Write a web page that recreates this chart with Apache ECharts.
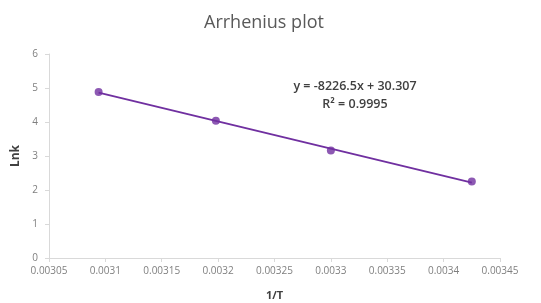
<!DOCTYPE html>
<html>
<head>
<meta charset="utf-8">
<script src="https://cdn.jsdelivr.net/npm/echarts@6/dist/echarts.min.js"></script>
<style>
  html, body { margin: 0; padding: 0; background: #fff; }
  #chart { width: 541px; height: 303px; }
</style>
</head>
<body>
<div id="chart"></div>
<script>
// 1/T values and ln k
const invT = [0.003094, 0.003198, 0.0033, 0.003425];
const lnK = [4.88, 4.04, 3.16, 2.25];

// equation text as printed on the chart
const eqSlope = -8226.5;
const eqIntercept = 30.307;
const rSquared = 0.9995;

const xTicks = { min: 0.00305, max: 0.00345, step: 0.00005 };
const yTicks = { min: 0, max: 6, step: 1 };

// least-squares line through the plotted points
const mx = invT.reduce((a, b) => a + b, 0) / invT.length;
const my = lnK.reduce((a, b) => a + b, 0) / lnK.length;
let sxy = 0, sxx = 0;
invT.forEach((x, i) => { sxy += (x - mx) * (lnK[i] - my); sxx += (x - mx) * (x - mx); });
const fitSlope = sxy / sxx;
const fitIntercept = my - fitSlope * mx;
const trend = [Math.min(...invT), Math.max(...invT)].map(x => [x, fitSlope * x + fitIntercept]);

const chart = echarts.init(document.getElementById('chart'));

const axisGray = '#d9d9d9';
const labelGray = '#7f7f7f';
const font = 'Open Sans, Liberation Sans, sans-serif';

chart.setOption({
  animation: false,
  textStyle: { fontFamily: font },
  title: {
    text: 'Arrhenius plot',
    left: 199,
    top: 9,
    textStyle: { fontSize: 18, fontWeight: 'normal', color: '#595959', fontFamily: font }
  },
  grid: { left: 49, right: 41, top: 54, bottom: 45, containLabel: false, outerBoundsMode: 'none' },
  xAxis: {
    type: 'value',
    min: xTicks.min,
    max: xTicks.max,
    interval: xTicks.step,
    name: '1/T',
    nameLocation: 'middle',
    nameGap: 32,
    nameTextStyle: { fontSize: 11, fontWeight: 'bold', color: '#404040' },
    axisLine: { lineStyle: { color: axisGray } },
    axisTick: { show: true, length: 4, lineStyle: { color: axisGray } },
    axisLabel: {
      fontSize: 10, color: labelGray, margin: 8,
      formatter: v => String(+v.toFixed(5))
    },
    splitLine: { show: false }
  },
  yAxis: {
    type: 'value',
    min: yTicks.min,
    max: yTicks.max,
    interval: yTicks.step,
    name: 'Lnk',
    nameLocation: 'middle',
    nameGap: 27,
    nameTextStyle: { fontSize: 12, fontWeight: 'bold', color: '#404040' },
    axisLine: { show: true, lineStyle: { color: axisGray } },
    axisTick: { show: true, length: 4, lineStyle: { color: axisGray } },
    axisLabel: { fontSize: 10, color: labelGray, margin: 11 },
    splitLine: { show: false }
  },
  graphic: [{
    type: 'text',
    x: 355,
    y: 77,
    style: {
      text: 'y = ' + eqSlope + 'x + ' + eqIntercept + '\nR² = ' + rSquared,
      align: 'center',
      fontSize: 12.5,
      lineHeight: 18,
      fill: '#404040',
      fontWeight: 600,
      fontFamily: font
    }
  }],
  series: [
    {
      type: 'line',
      data: trend,
      symbol: 'none',
      lineStyle: { color: '#7030a0', width: 2 },
      z: 2
    },
    {
      type: 'scatter',
      data: invT.map((x, i) => [x, lnK[i]]),
      symbolSize: 8,
      itemStyle: { color: '#7030a0' },
      z: 3
    }
  ]
});
</script>
</body>
</html>
